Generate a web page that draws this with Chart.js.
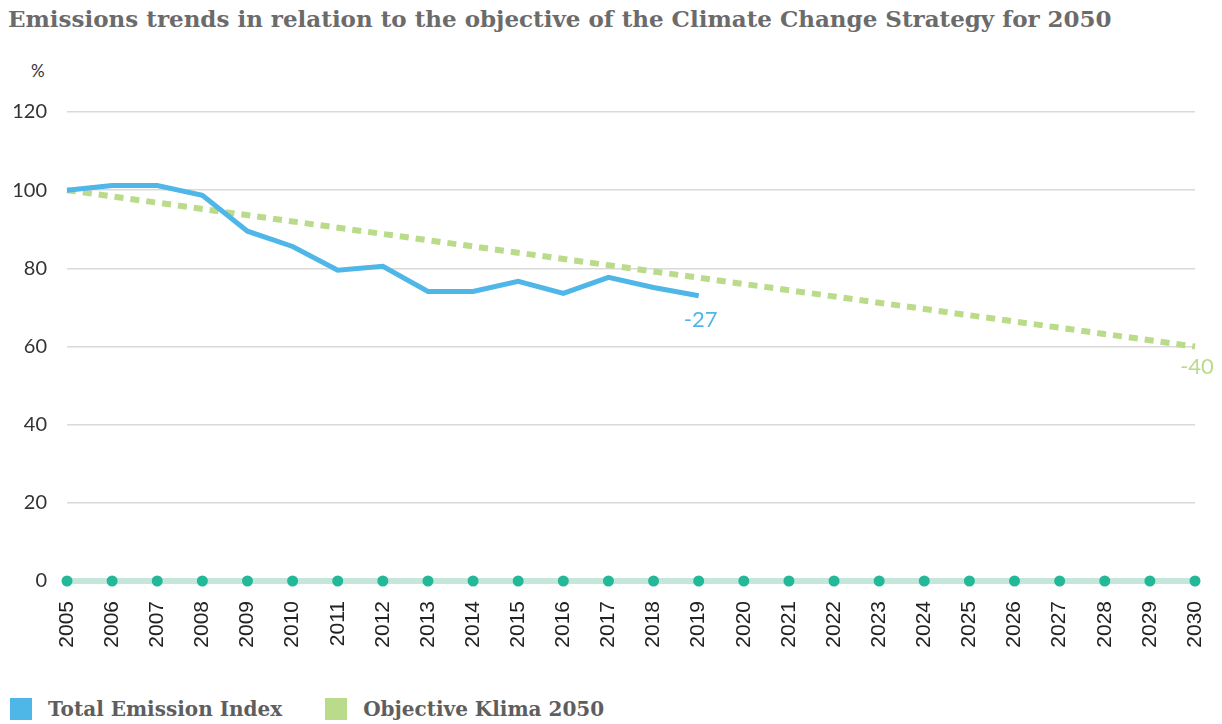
<!DOCTYPE html>
<html>
<head>
<meta charset="utf-8">
<script src="https://cdn.jsdelivr.net/npm/chart.js@4/dist/chart.umd.min.js"></script>
<style>
  body { margin: 0; background: #fff; width: 1222px; height: 724px; overflow: hidden; position: relative; }
  .title { position: absolute; left: 8px; top: 5px; font-family: "DejaVu Serif", serif; font-weight: bold; font-size: 23px; color: #6b6b6b; white-space: nowrap; }
  .unit { position: absolute; left: 31px; top: 60px; font-family: Lato, sans-serif; font-size: 17px; color: #333; }
  .box { position: absolute; top: 50px; left: 0; width: 1222px; height: 611px; }
  .legend { position: absolute; top: 695px; left: 10px; font-family: "DejaVu Serif", serif; font-weight: bold; font-size: 20px; color: #5e5e5e; }
  .legend span { display: inline-block; vertical-align: middle; }
  .sw { width: 22px; height: 22px; margin-right: 16px; }
</style>
</head>
<body>
<div class="title">Emissions trends in relation to the objective of the Climate Change Strategy for 2050</div>
<div class="unit">%</div>
<div class="box"><canvas id="myChart"></canvas></div>
<div class="legend">
  <span class="sw" style="background:#4fb6e8"></span><span style="margin-right:36px">Total Emission Index</span>
  <span class="sw" style="background:#b9db8a"></span><span>Objective Klima 2050</span>
</div>
<script>
/* ============== Data ===========*/

const years = ['2005', '2006', '2007', '2008', '2009', '2010', '2011', '2012', '2013',
  '2014', '2015', '2016', '2017', '2018', '2019', '2020', '2021', '2022', '2023',
  '2024', '2025', '2026', '2027', '2028', '2029', '2030'];

const emissions = [100, 101.2, 101.2, 98.7, 89.5, 85.6, 79.5, 80.5, 74.1, 74.1,
  76.7, 73.6, 77.7, 75.1, 73];

// straight objective line: 2005 start, 2030 target
const objective = [100, null, null, null, null, null, null, null, null, null, null, null, null,
  null, null, null, null, null, null, null, null, null, null, null, null, 60];

const baseline = years.map(() => 0);

const yTicks = [0, 20, 40, 60, 80, 100, 120];

const endLabels = [
  { dataset: 0, text: '-27', color: '#4fb6e8', dy: 24 },
  { dataset: 1, text: '-40', color: '#b9db8a', dy: 20 }
];

/* ============== Chart ===========*/

const endLabelPlugin = {
  id: 'endLabels',
  afterDatasetsDraw(chart) {
    const ctx = chart.ctx;
    ctx.save();
    ctx.font = '22px Lato, sans-serif';
    ctx.textAlign = 'center';
    ctx.textBaseline = 'middle';
    endLabels.forEach(l => {
      const pts = chart.getDatasetMeta(l.dataset).data;
      const data = chart.data.datasets[l.dataset].data;
      let i = data.length - 1;
      while (data[i] == null) i--;
      const p = pts[i];
      ctx.fillStyle = l.color;
      ctx.fillText(l.text, p.x + 2, p.y + l.dy);
    });
    ctx.restore();
  }
};

const graf = document.getElementById('myChart');

const config = {
  type: 'line',
  data: {
    labels: years,
    datasets: [{
      label: 'Total Emission Index',
      data: emissions,
      borderColor: '#4fb6e8',
      borderWidth: 5,
      pointRadius: 0,
      tension: 0
    }, {
      label: 'Objective Klima 2050',
      data: objective,
      spanGaps: true,
      borderColor: '#b9db8a',
      borderWidth: 6,
      borderDash: [9, 7],
      borderCapStyle: 'butt',
      pointRadius: 0,
      clip: false
    }, {
      label: 'baseline',
      data: baseline,
      borderColor: '#c4e6db',
      borderWidth: 6,
      pointRadius: 5.5,
      pointBackgroundColor: '#22b898',
      pointBorderWidth: 0,
      clip: false
    }]
  },
  options: {
    responsive: true,
    maintainAspectRatio: false,
    animation: false,
    layout: { padding: { top: 62, right: 27, left: 0, bottom: 0 } },
    plugins: {
      legend: { display: false },
      tooltip: { enabled: false }
    },
    scales: {
      x: {
        offset: false,
        grid: { display: false },
        border: { display: false },
        ticks: {
          color: '#222',
          font: { family: 'Liberation Sans', size: 21 },
          minRotation: 90,
          maxRotation: 90,
          autoSkip: false,
          padding: 12
        },
        afterFit(scale) {
          scale.height = 80;
          scale.paddingLeft = 0;
          scale.paddingRight = 0;
        }
      },
      y: {
        min: 0,
        max: 120,
        grid: { color: '#d9d9d9', lineWidth: 1.5, drawTicks: false },
        border: { display: false },
        afterBuildTicks(scale) { scale.ticks = yTicks.map(v => ({ value: v })); },
        ticks: {
          color: '#333',
          font: { family: 'Lato', size: 20 },
          padding: 20
        },
        afterFit(scale) { scale.width = 67; }
      }
    }
  },
  plugins: [endLabelPlugin]
};

const myChart = new Chart(graf, config);
</script>
</body>
</html>
